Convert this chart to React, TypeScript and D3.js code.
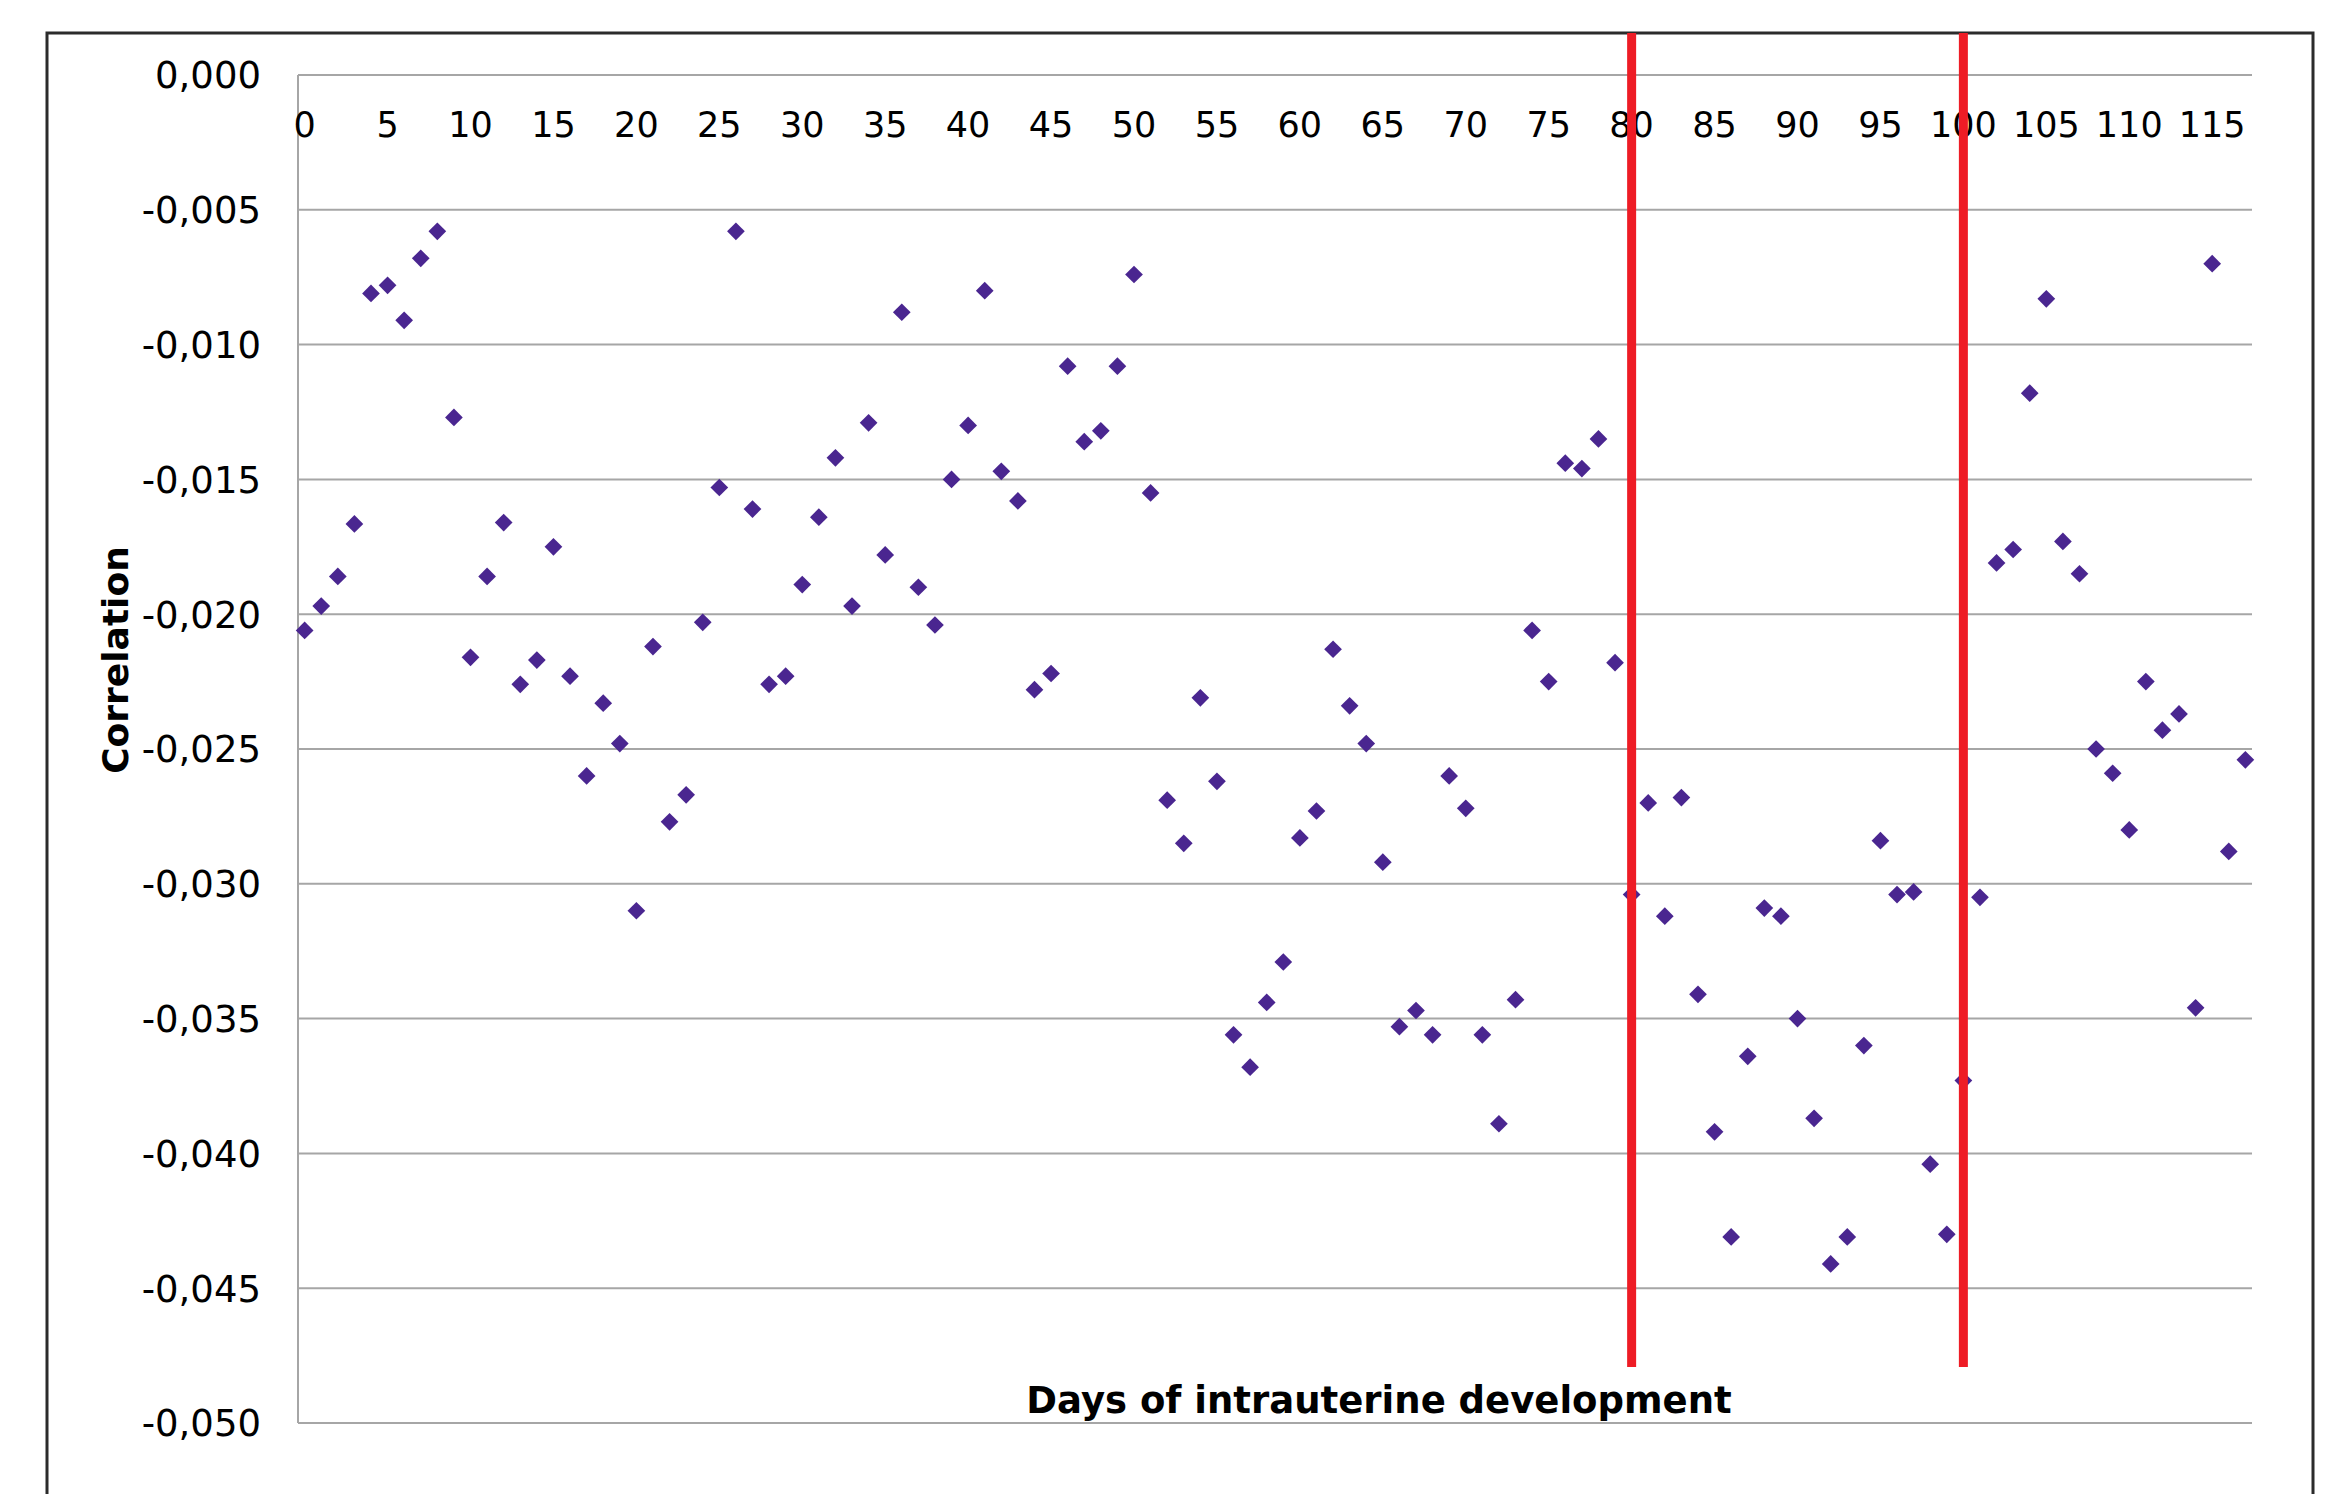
import React from 'react';
import * as d3 from 'd3';

// day of development (x) and correlation (y), one value per day
const days = [
  0, 1, 2, 3, 4, 5, 6, 7, 8, 9, 10, 11, 12, 13, 14, 15, 16, 17, 18, 19,
  20, 21, 22, 23, 24, 25, 26, 27, 28, 29, 30, 31, 32, 33, 34, 35, 36, 37, 38, 39,
  40, 41, 42, 43, 44, 45, 46, 47, 48, 49, 50, 51, 52, 53, 54, 55, 56, 57, 58, 59,
  60, 61, 62, 63, 64, 65, 66, 67, 68, 69, 70, 71, 72, 73, 74, 75, 76, 77, 78, 79,
  80, 81, 82, 83, 84, 85, 86, 87, 88, 89, 90, 91, 92, 93, 94, 95, 96, 97, 98, 99,
  100, 101, 102, 103, 104, 105, 106, 107, 108, 109, 110, 111, 112, 113, 114, 115, 116, 117,
];

const correlation = [
  -0.0206, -0.0197, -0.0186, -0.01665, -0.0081, -0.0078, -0.0091, -0.0068, -0.0058, -0.0127,
  -0.0216, -0.0186, -0.0166, -0.0226, -0.0217, -0.0175, -0.0223, -0.0260, -0.0233, -0.0248,
  -0.0310, -0.0212, -0.0277, -0.0267, -0.0203, -0.0153, -0.0058, -0.0161, -0.0226, -0.0223,
  -0.0189, -0.0164, -0.0142, -0.0197, -0.0129, -0.0178, -0.0088, -0.0190, -0.0204, -0.0150,
  -0.0130, -0.0080, -0.0147, -0.0158, -0.0228, -0.0222, -0.0108, -0.0136, -0.0132, -0.0108,
  -0.0074, -0.0155, -0.0269, -0.0285, -0.0231, -0.0262, -0.0356, -0.0368, -0.0344, -0.0329,
  -0.0283, -0.0273, -0.0213, -0.0234, -0.0248, -0.0292, -0.0353, -0.0347, -0.0356, -0.0260,
  -0.0272, -0.0356, -0.0389, -0.0343, -0.0206, -0.0225, -0.0144, -0.0146, -0.0135, -0.0218,
  -0.0304, -0.0270, -0.0312, -0.0268, -0.0341, -0.0392, -0.0431, -0.0364, -0.0309, -0.0312,
  -0.0350, -0.0387, -0.0441, -0.0431, -0.0360, -0.0284, -0.0304, -0.0303, -0.0404, -0.0430,
  -0.0373, -0.0305, -0.0181, -0.0176, -0.0118, -0.0083, -0.0173, -0.0185, -0.0250, -0.0259,
  -0.0280, -0.0225, -0.0243, -0.0237, -0.0346, -0.0070, -0.0288, -0.0254,
];

const xTicks = [0, 5, 10, 15, 20, 25, 30, 35, 40, 45, 50, 55, 60, 65, 70, 75, 80, 85, 90, 95, 100, 105, 110, 115];
const yTicks = [0, -0.005, -0.01, -0.015, -0.02, -0.025, -0.03, -0.035, -0.04, -0.045, -0.05];
const markerDays = [80, 100]; // red vertical lines

const App = () => {
  const width = 2344;
  const height = 1494;
  const plot = { left: 298, right: 2252, top: 75, bottom: 1423 };

  const purple = '#4a2690';
  const red = '#ee1c25';
  const grid = '#a6a6a6';
  const font = '"DejaVu Sans", Verdana, sans-serif';

  const xScale = d3.scaleLinear().domain([-0.4, 117.4]).range([plot.left, plot.right]);
  const yScale = d3.scaleLinear().domain([0, -0.05]).range([plot.top, plot.bottom]);

  // comma decimal, plain hyphen minus
  const fmt = d3.formatLocale({ decimal: ',', thousands: '.', grouping: [3], currency: ['', ''], minus: '-' }).format('.3f');

  const diamond = d3.symbol().type(d3.symbolDiamond2).size(200)();

  return (
    <div style={{ position: 'absolute', left: 0, top: 0 }}>
      <svg width={width} height={height} style={{ display: 'block', background: '#fff' }}>
        {/* outer frame, bottom edge is cut off */}
        <rect x={47} y={33} width={2266} height={1500} fill="none" stroke="#2b2b2b" strokeWidth={3} />

        {/* horizontal gridlines */}
        {yTicks.map((t) => (
          <line key={t} x1={plot.left} x2={plot.right} y1={yScale(t)} y2={yScale(t)} stroke={grid} strokeWidth={2} />
        ))}
        <line x1={plot.left} x2={plot.left} y1={plot.top} y2={plot.bottom} stroke={grid} strokeWidth={2} />

        {/* y tick labels */}
        {yTicks.map((t) => (
          <text key={t} x={261} y={yScale(t)} dy="0.36em" textAnchor="end" fontFamily={font} fontSize={37} fill="#000">
            {fmt(t)}
          </text>
        ))}

        {/* x tick labels sit at the top */}
        {xTicks.map((t) => (
          <text key={t} x={xScale(t)} y={137} textAnchor="middle" fontFamily={font} fontSize={35} fill="#000">
            {t}
          </text>
        ))}

        {/* points */}
        {days.map((d, i) => (
          <path key={d} transform={`translate(${xScale(d)},${yScale(correlation[i])})`} d={diamond} fill={purple} />
        ))}

        {/* red marker lines */}
        {markerDays.map((d) => (
          <line key={d} x1={xScale(d)} x2={xScale(d)} y1={33} y2={1367} stroke={red} strokeWidth={9} />
        ))}

        <text x={1379} y={1413} textAnchor="middle" fontFamily={font} fontSize={37} fontWeight="bold" fill="#000">
          Days of intrauterine development
        </text>
        <text transform={`translate(128,660) rotate(-90)`} textAnchor="middle" fontFamily={font} fontSize={36} fontWeight="bold" fill="#000">
          Correlation
        </text>
      </svg>
    </div>
  );
};

export default App;
